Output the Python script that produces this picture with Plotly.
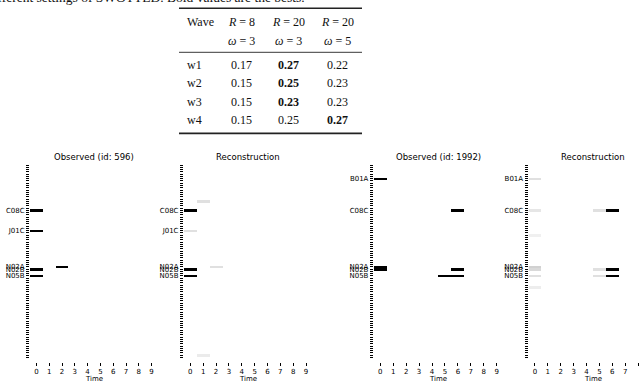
import plotly.graph_objects as go

W, H = 640, 383

# ---------------- data ----------------
caption = "different settings of SWOTTED. Bold values are the bests."
waves = ["w1", "w2", "w3", "w4"]
col_R = ["8", "20", "20"]
col_omega = ["3", "3", "5"]
vals_r8_w3 = [0.17, 0.15, 0.15, 0.15]
vals_r20_w3 = [0.27, 0.25, 0.23, 0.25]
vals_r20_w5 = [0.22, 0.23, 0.23, 0.27]
best_col = [1, 1, 1, 2]

n_rows = 86
times = list(range(10))
codes = ["B01A", "C08C", "J01C", "N02A", "N02B", "N05B"]
code_rows = [6, 20, 29, 45, 46, 49]

titles = ["Observed (id: 596)", "Reconstruction", "Observed (id: 1992)", "Reconstruction"]
panel_codes = [
    ["C08C", "J01C", "N02A", "N02B", "N05B"],
    ["C08C", "J01C", "N02A", "N02B", "N05B"],
    ["B01A", "C08C", "N02A", "N02B", "N05B"],
    ["B01A", "C08C", "N02A", "N02B", "N05B"],
]
# (row, time, value)
obs_596 = [(20, 0, 1.0), (29, 0, 1.0), (45, 2, 1.0), (46, 0, 1.0), (49, 0, 1.0)]
rec_596 = [(16, 1, 0.12), (20, 0, 1.0), (29, 0, 0.12), (45, 2, 0.12),
           (46, 0, 1.0), (49, 0, 1.0), (84, 1, 0.08)]
obs_1992 = [(6, 0, 1.0), (20, 6, 1.0), (45, 0, 1.0), (46, 0, 1.0),
            (46, 6, 1.0), (49, 5, 1.0), (49, 6, 1.0)]
rec_1992 = [(6, 0, 0.12), (20, 0, 0.1), (20, 5, 0.12), (20, 6, 1.0),
            (31, 0, 0.06), (45, 0, 0.18), (46, 0, 0.15), (46, 5, 0.12),
            (46, 6, 1.0), (49, 0, 0.12), (49, 5, 0.12), (49, 6, 1.0), (54, 0, 0.07)]
panels = [obs_596, rec_596, obs_1992, rec_1992]

# ---------------- layout helpers ----------------
def px(x):
    return x / W

def py(y):
    return 1 - y / H

x_domains_px = [(30, 158), (183.9, 312.5), (373.8, 503.2), (528.5, 640)]
unit_px = [12.8, 12.86, 12.94, 12.9]
y_top, y_bot = 164, 358.5
x_axis_y = 361.5
title_cx = [94, 248, 438, 593]

fig = go.Figure()
serif = "Liberation Serif"
sans = "DejaVu Sans"

annotations = []
shapes = []

for i, cells in enumerate(panels):
    z = [[0.0 for _ in times] for _ in range(n_rows)]
    for r, t, v in cells:
        z[r][t] = v
    xa = "x" if i == 0 else f"x{i+1}"
    ya = "y" if i == 0 else f"y{i+1}"
    fig.add_trace(go.Heatmap(
        z=z, x=times, y=list(range(n_rows)),
        colorscale=[[0, "#ffffff"], [1, "#000000"]], zmin=0, zmax=1,
        showscale=False, xaxis=xa, yaxis=ya, xgap=0, ygap=0,
    ))
    x0, x1 = x_domains_px[i]
    xmax = -0.5 + (x1 - x0) / unit_px[i]
    ticktext = []
    for r in range(n_rows):
        lab = ""
        for c, cr in zip(codes, code_rows):
            if cr == r and c in panel_codes[i]:
                lab = c
        ticktext.append(lab)
    xkey = "xaxis" if i == 0 else f"xaxis{i+1}"
    ykey = "yaxis" if i == 0 else f"yaxis{i+1}"
    fig.update_layout(**{
        xkey: dict(domain=[px(x0), px(x1)], range=[-0.5, xmax], anchor="free",
                   position=py(x_axis_y),
                   tickvals=times, ticks="outside", ticklen=3, tickwidth=1,
                   tickcolor="#000", showgrid=False, zeroline=False, showline=False,
                   tickfont=dict(family=sans, size=7, color="#000")),
        ykey: dict(domain=[py(y_bot), py(y_top)], range=[n_rows - 0.5, -0.5], anchor=xa,
                   tickvals=list(range(n_rows)), ticktext=ticktext, ticks="outside",
                   ticklen=3, tickwidth=1, tickcolor="#000", showgrid=False,
                   zeroline=False, showline=False,
                   tickfont=dict(family=sans, size=7, color="#000")),
    })
    annotations.append(dict(text=titles[i], x=px(title_cx[i]), y=py(157), xref="paper", yref="paper",
                            showarrow=False, xanchor="center", yanchor="middle",
                            font=dict(family=sans, size=8.5, color="#000")))
    annotations.append(dict(text="Time", x=px(title_cx[i]), y=py(379.3), xref="paper", yref="paper",
                            showarrow=False, xanchor="center", yanchor="middle",
                            font=dict(family=sans, size=7, color="#000")))

# ---------------- table ----------------
def add_text(t, x, y, xanchor="center", size=12, bold=False):
    if bold:
        t = f"<b>{t}</b>"
    annotations.append(dict(text=t, x=px(x), y=py(y), xref="paper", yref="paper",
                            showarrow=False, xanchor=xanchor, yanchor="middle",
                            font=dict(family=serif, size=size, color="#111")))

annotations.append(dict(text=caption, x=px(307), y=py(-2.5), xref="paper", yref="paper",
                        showarrow=False, xanchor="right", yanchor="middle",
                        font=dict(family=serif, size=13.5, color="#111")))

col_x = [241, 288, 337]
add_text("Wave", 185, 22, xanchor="left")
for cx, rr, om in zip(col_x, col_R, col_omega):
    add_text(f"<i>R</i> = {rr}", cx, 22)
    add_text(f"<i>ω</i> = {om}", cx, 40.7)

row_y = [65, 83.3, 101.7, 120]
cols = [vals_r8_w3, vals_r20_w3, vals_r20_w5]
for k, w in enumerate(waves):
    add_text(w, 185, row_y[k], xanchor="left")
    for j, col in enumerate(cols):
        add_text(f"{col[k]:.2f}", col_x[j], row_y[k], bold=(best_col[k] == j))

for yy, wd in [(8.3, 1.4), (52.3, 0.9), (133.3, 1.8)]:
    shapes.append(dict(type="line", xref="paper", yref="paper", x0=px(179), x1=px(362),
                       y0=py(yy), y1=py(yy), line=dict(color="#222", width=wd)))

fig.update_layout(width=W, height=H, margin=dict(l=0, r=0, t=0, b=0),
                  paper_bgcolor="white", plot_bgcolor="white",
                  annotations=annotations, shapes=shapes, showlegend=False)

fig.write_html("out.html", config={"displayModeBar": False},
               post_script="document.body.style.margin='0';document.body.style.overflow='hidden';")
